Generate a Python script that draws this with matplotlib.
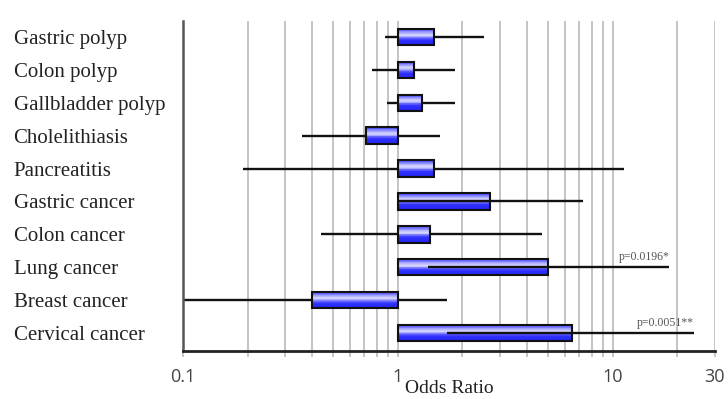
import numpy as np
import matplotlib
matplotlib.use('Agg')
import matplotlib.pyplot as plt
from matplotlib.colors import LinearSegmentedColormap

# data
labels = ['Gastric polyp', 'Colon polyp', 'Gallbladder polyp', 'Cholelithiasis',
          'Pancreatitis', 'Gastric cancer', 'Colon cancer', 'Lung cancer',
          'Breast cancer', 'Cervical cancer']
odds   = [1.47, 1.19, 1.29, 0.71, 1.47, 2.68, 1.41, 4.98, 0.40, 6.45]
ci_lo  = [0.87, 0.76, 0.89, 0.36, 0.19, 0.99, 0.44, 1.38, 0.10, 1.69]
ci_hi  = [2.51, 1.84, 1.84, 1.58, 11.3, 7.3, 4.68, 18.4, 1.69, 23.9]
line_on_top = [False, False, False, False, False, True, False, True, False, True]
pvals  = {7: 'p=0.0196*', 9: 'p=0.0051**'}

major_ticks = [0.1, 1, 10, 30]
minor_ticks = [0.2, 0.3, 0.4, 0.5, 0.6, 0.7, 0.8, 0.9,
               2, 3, 4, 5, 6, 7, 8, 9, 20]

fig = plt.figure(figsize=(7.28, 3.99), dpi=100, facecolor='white')
ax = fig.add_axes([183/728, 48/399, 532/728, 330/399])

rows = np.arange(len(labels))
h = 0.5
nb = 24
cmap = LinearSegmentedColormap.from_list('box', [
    (0.0, '#4040ff'), (0.12, '#7070ff'), (0.3, '#c4c4ff'), (0.42, '#d8d8ff'),
    (0.55, '#6a6aff'), (0.7, '#3030ff'), (1.0, '#2424f0')])

for i in rows:
    z = 3 if line_on_top[i] else 1
    ax.plot([ci_lo[i], ci_hi[i]], [i, i], color='#111111', lw=1.7,
            solid_capstyle='butt', zorder=z)
    left = min(1, odds[i])
    width = abs(odds[i] - 1)
    for k in range(nb):
        f = (k + 0.5) / nb
        ax.barh(i - h/2 + f*h, width, left=left, height=h/nb*1.05,
                color=cmap(f), lw=0, zorder=2)
    ax.barh(i, width, left=left, height=h, fill=False,
            edgecolor='#111111', lw=1.5, zorder=4)

for i, t in pvals.items():
    ax.text(ci_hi[i], i - 0.12, t, ha='right', va='bottom', fontsize=8.5,
            family='Liberation Serif', color='#555555', zorder=5)

ax.set_xscale('log')
ax.set_xlim(0.1, 30)
ax.set_ylim(len(labels) - 0.455, -0.485)

ax.set_xticks(major_ticks)
ax.set_xticklabels(['0.1', '1', '10', '30'], family='Open Sans', fontsize=13,
                   color='#444444')
ax.set_xticks(minor_ticks, minor=True)
ax.xaxis.set_minor_formatter(plt.NullFormatter())
ax.tick_params(axis='x', which='both', direction='out', length=4.5, width=1.2,
               color='#bbbbbb', pad=8)
ax.grid(axis='x', which='both', color='#c4c4c4', lw=1.4, zorder=0)
ax.set_axisbelow(True)

ax.set_yticks(rows)
ax.set_yticklabels(labels, family='Liberation Serif', fontsize=15, color='#222222')
for lab in ax.get_yticklabels():
    lab.set_ha('left')
ax.tick_params(axis='y', length=0, pad=122)

ax.spines['top'].set_visible(False)
ax.spines['right'].set_visible(False)
ax.spines['left'].set_color('#555555')
ax.spines['left'].set_linewidth(1.8)
ax.spines['bottom'].set_color('#222222')
ax.spines['bottom'].set_linewidth(2)

ax.set_xlabel('Odds Ratio', family='Liberation Serif', fontsize=14,
              color='#222222', labelpad=-4.5)

plt.savefig('out.png', dpi=100)
